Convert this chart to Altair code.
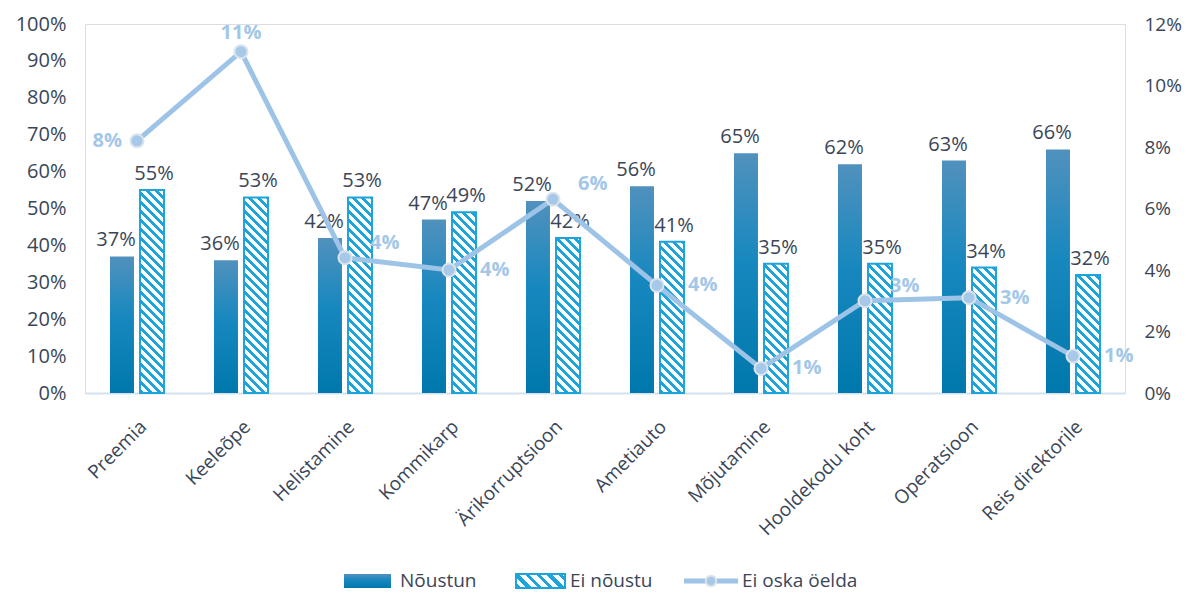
import altair as alt
import pandas as pd

categories = ["Preemia", "Keeleõpe", "Helistamine", "Kommikarp", "Ärikorruptsioon",
              "Ametiauto", "Mõjutamine", "Hooldekodu koht", "Operatsioon", "Reis direktorile"]
agree = [37, 36, 42, 47, 52, 56, 65, 62, 63, 66]
disagree = [55, 53, 53, 49, 42, 41, 35, 35, 34, 32]
dont_know = [8.2, 11.1, 4.4, 4.0, 6.3, 3.5, 0.8, 3.0, 3.1, 1.2]
dont_know_labels = ["8%", "11%", "4%", "4%", "6%", "4%", "1%", "3%", "3%", "1%"]
series_names = ["Nõustun", "Ei nõustu", "Ei oska öelda"]

FONT = "Open Sans"
DARK = "#3a4658"
LINE = "#9dc3e6"
HATCH = "#1ea3da"
W, H = 1040, 369
BAR_W = 24

bars_df = pd.DataFrame(
    [{"cat": c, "series": series_names[0], "value": v} for c, v in zip(categories, agree)]
    + [{"cat": c, "series": series_names[1], "value": v} for c, v in zip(categories, disagree)]
)
line_df = pd.DataFrame({"cat": categories, "dk": dont_know, "lbl": dont_know_labels})


def hatch_gradient(w, h, period=9.0, blue=4.0, color=HATCH):
    total = w + h
    c = total / (w * w + h * h)
    segs = []
    s = -period
    while s < total:
        segs.append((s, s + blue, color))
        segs.append((s + blue, s + period, "#ffffff"))
        s += period
    stops = []
    for a, b, col in segs:
        ta = min(max(a / total, 0), 1)
        tb = min(max(b / total, 0), 1)
        if tb <= 0 or ta >= 1:
            continue
        stops.append(alt.GradientStop(color=col, offset=round(ta, 5)))
        stops.append(alt.GradientStop(color=col, offset=round(tb, 5)))
    return alt.LinearGradient(gradient="linear", stops=stops,
                              x1=0, y1=1, x2=round(c * w, 6), y2=round(1 - c * h, 6))


agree_grad = alt.LinearGradient(
    gradient="linear",
    stops=[alt.GradientStop(color="#5191bd", offset=0),
           alt.GradientStop(color="#1788bf", offset=0.45),
           alt.GradientStop(color="#0078ac", offset=1)],
    x1=0, x2=0, y1=0, y2=1)

x_enc = alt.X("cat:N", sort=categories,
              scale=alt.Scale(domain=categories, paddingInner=0.48, paddingOuter=0.24),
              axis=alt.Axis(title=None, labelAngle=-45, labelAlign="right", labelBaseline="top",
                            labelPadding=24, ticks=False, domainColor="#d5e1f1", domainWidth=2,
                            labelColor=DARK, labelFontSize=19, labelFont=FONT, labelLimit=300))
xo_enc = alt.XOffset("series:N", sort=series_names[:2],
                     scale=alt.Scale(domain=series_names[:2], paddingInner=0.2, paddingOuter=0))
y_left = alt.Y("value:Q", scale=alt.Scale(domain=[0, 100], nice=False),
               axis=alt.Axis(title=None, values=list(range(0, 101, 10)),
                             labelExpr="datum.value + '%'", domain=False, ticks=False, grid=False,
                             labelPadding=19, labelFontSize=20, labelColor=DARK, labelFont=FONT))

base = alt.Chart(bars_df)
agree_layer = base.mark_bar(fill=agree_grad, width=BAR_W).encode(
    x=x_enc, xOffset=xo_enc, y=y_left
).transform_filter(alt.datum.series == series_names[0])

hatch_layers = []
for c, v in zip(categories, disagree):
    h = v / 100 * H
    hatch_layers.append(
        base.mark_bar(fill=hatch_gradient(BAR_W, h), stroke=HATCH, strokeWidth=2, width=BAR_W)
        .encode(x=x_enc, xOffset=xo_enc, y=y_left)
        .transform_filter((alt.datum.series == series_names[1]) & (alt.datum.cat == c))
    )

txt = dict(baseline="bottom", dy=-6, fontSize=20, color=DARK, font=FONT)
bar_labels_a = base.mark_text(dx=-6, **txt).encode(
    x=x_enc, xOffset=xo_enc, y=y_left, text=alt.Text("lbl:N")
).transform_filter(alt.datum.series == series_names[0]).transform_calculate(lbl="datum.value + '%'")
bar_labels_b = base.mark_text(dx=2, **txt).encode(
    x=x_enc, xOffset=xo_enc, y=y_left, text=alt.Text("lbl:N")
).transform_filter(alt.datum.series == series_names[1]).transform_calculate(lbl="datum.value + '%'")

bar_group = alt.layer(agree_layer, *hatch_layers, bar_labels_a, bar_labels_b)

y_right = alt.Y("dk:Q", scale=alt.Scale(domain=[0, 12], nice=False),
                axis=alt.Axis(title=None, orient="right", values=list(range(0, 13, 2)),
                              labelExpr="datum.value + '%'", domain=False, ticks=False, grid=False,
                              labelPadding=19, labelFontSize=19, labelColor=DARK, labelFont=FONT))
lbase = alt.Chart(line_df)
line = lbase.mark_line(color=LINE, strokeWidth=5).encode(x=x_enc, y=y_right)
pts = lbase.mark_point(filled=True, size=170, fill="#a6c9e9", stroke="#dde3ea",
                       strokeWidth=2, opacity=1).encode(x=x_enc, y=y_right)
lbl_style = dict(fontSize=20, fontWeight="bold", color="#a3c7e8", font=FONT)
upper_right = [categories[2], categories[4], categories[7]]
lbl_left = lbase.mark_text(align="right", baseline="middle", dx=-15, **lbl_style).encode(
    x=x_enc, y=y_right, text="lbl:N").transform_filter(alt.datum.cat == categories[0])
lbl_top = lbase.mark_text(align="center", baseline="bottom", dy=-9, **lbl_style).encode(
    x=x_enc, y=y_right, text="lbl:N").transform_filter(alt.datum.cat == categories[1])
lbl_upright = lbase.mark_text(align="left", baseline="middle", dx=25, dy=-15, **lbl_style).encode(
    x=x_enc, y=y_right, text="lbl:N").transform_filter(
    alt.FieldOneOfPredicate(field="cat", oneOf=upper_right))
lbl_right = lbase.mark_text(align="left", baseline="middle", dx=31, dy=0, **lbl_style).encode(
    x=x_enc, y=y_right, text="lbl:N").transform_filter(
    ~alt.FieldOneOfPredicate(field="cat", oneOf=categories[:2] + upper_right))
line_group = alt.layer(line, pts, lbl_left, lbl_top, lbl_upright, lbl_right)

# legend
one = alt.Chart(pd.DataFrame({"k": [0]}))
LY = 557
leg_text = dict(fontSize=19, color=DARK, font=FONT, align="left", baseline="middle")
legend = [
    one.mark_rect(fill=agree_grad).encode(x=alt.value(259), x2=alt.value(306),
                                          y=alt.value(LY - 7), y2=alt.value(LY + 7)),
    one.mark_text(text=series_names[0], **leg_text).encode(x=alt.value(315), y=alt.value(LY)),
    one.mark_rect(fill=hatch_gradient(49, 14, period=11, blue=5), stroke=HATCH, strokeWidth=2).encode(
        x=alt.value(431), x2=alt.value(480), y=alt.value(LY - 7), y2=alt.value(LY + 7)),
    one.mark_text(text=series_names[1], **leg_text).encode(x=alt.value(485), y=alt.value(LY)),
    one.mark_rule(color=LINE, strokeWidth=5).encode(x=alt.value(599), x2=alt.value(653),
                                                    y=alt.value(LY)),
    one.mark_point(filled=True, size=110, fill="#a6c9e9", stroke="#dde3ea", strokeWidth=2,
                   opacity=1).encode(x=alt.value(626), y=alt.value(LY)),
    one.mark_text(text=series_names[2], **leg_text).encode(x=alt.value(657), y=alt.value(LY)),
]

chart = alt.layer(bar_group, line_group, *legend).resolve_scale(y="independent").properties(
    width=W, height=H,
    padding={"left": 77, "top": 16, "right": 61, "bottom": 200},
    autosize=alt.AutoSizeParams(type="none"),
).configure_view(stroke=None).configure(font=FONT, background="white")

chart.save("out.html", embed_options={"renderer": "svg", "actions": False})
